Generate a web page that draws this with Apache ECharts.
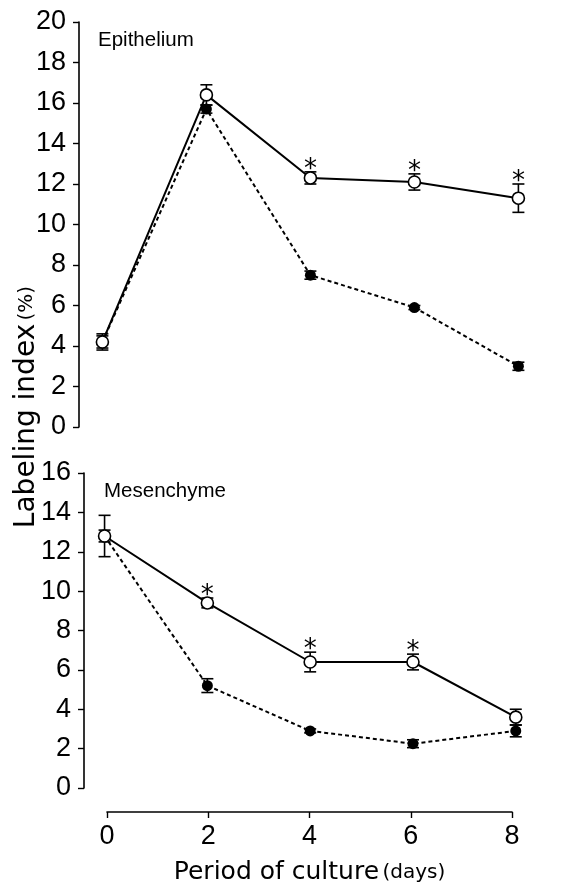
<!DOCTYPE html>
<html>
<head>
<meta charset="utf-8">
<script src="https://cdn.jsdelivr.net/npm/echarts@6/dist/echarts.min.js"></script>
<style>
html,body{margin:0;padding:0;background:#fff;}
#chart{width:573px;height:886px;}
</style>
</head>
<body>
<div id="chart"></div>
<script>
// ---- data ----
const days = [0, 2, 4, 6, 8];
const xTicks = [0, 2, 4, 6, 8];
const epiOpen = [4.2, 16.4, 12.3, 12.1, 11.3];
const epiOpenErr = [0.4, 0.5, 0.3, 0.4, 0.7];
const epiFilled = [4.2, 15.7, 7.5, 5.9, 3.0];
const epiFilledErr = [0.3, 0.2, 0.2, 0.1, 0.2];
const epiSig = [false, false, true, true, true];
const mesOpen = [12.8, 9.4, 6.4, 6.4, 3.6];
const mesOpenErr = [1.05, 0.25, 0.5, 0.4, 0.4];
const mesFilled = [12.8, 5.2, 2.9, 2.25, 2.9];
const mesFilledErr = [0.3, 0.35, 0.1, 0.2, 0.3];
const mesSig = [false, true, true, true, false];
const noSig = [false, false, false, false, false];
const epiYMax = 20, mesYMax = 16, yStep = 2;
const panelTitles = ['Epithelium', 'Mesenchyme'];
const yTitle = 'Labeling index', yUnit = '(%)';
const xTitle = 'Period of culture', xUnit = '(days)';

const NUM_FONT = "'Liberation Sans',Arial,sans-serif";
const TXT_FONT = "'Liberation Sans',Arial,sans-serif";
const WIDE_FONT = "'DejaVu Sans',sans-serif";

const pts = (vals) => days.map((d, i) => [d, vals[i]]);
const errData = (vals, errs) => days.map((d, i) => [d, vals[i] - errs[i], vals[i] + errs[i]]);

// error bars (and significance asterisks above the upper cap)
function errSeries(idx, vals, errs, sig, z) {
  return {
    type: 'custom', xAxisIndex: idx, yAxisIndex: idx, z: z,
    data: errData(vals, errs),
    renderItem: function (params, api) {
      const lo = api.coord([api.value(0), api.value(1)]);
      const hi = api.coord([api.value(0), api.value(2)]);
      const w = 6;
      const st = { stroke: '#000', lineWidth: 1.6 };
      const children = [
        { type: 'line', shape: { x1: lo[0], y1: lo[1], x2: hi[0], y2: hi[1] }, style: st },
        { type: 'line', shape: { x1: lo[0] - w, y1: lo[1], x2: lo[0] + w, y2: lo[1] }, style: st },
        { type: 'line', shape: { x1: hi[0] - w, y1: hi[1], x2: hi[0] + w, y2: hi[1] }, style: st }
      ];
      if (sig[params.dataIndex]) {
        children.push({ type: 'text', x: hi[0], y: hi[1] - 2,
          style: { text: '*', font: '26px ' + WIDE_FONT, fill: '#000', align: 'center', verticalAlign: 'middle' } });
      }
      return { type: 'group', children: children };
    }
  };
}
function filledSeries(idx, vals) {
  return {
    type: 'line', xAxisIndex: idx, yAxisIndex: idx, z: 3,
    data: pts(vals), symbol: 'circle', symbolSize: 11,
    itemStyle: { color: '#000' },
    lineStyle: { color: '#000', width: 2, type: [4, 3] },
    animation: false
  };
}
function openSeries(idx, vals) {
  return {
    type: 'line', xAxisIndex: idx, yAxisIndex: idx, z: 4,
    data: pts(vals), symbol: 'circle', symbolSize: 12,
    itemStyle: { color: '#fff', borderColor: '#000', borderWidth: 1.6 },
    lineStyle: { color: '#000', width: 2 },
    animation: false
  };
}
function yAxisCfg(idx, max) {
  return {
    type: 'value', gridIndex: idx, min: 0, max: max, interval: yStep,
    axisLine: { show: true, onZero: false, lineStyle: { color: '#000', width: 1.6 } },
    axisTick: { show: true, length: 6, lineStyle: { color: '#000', width: 1.4 } },
    axisLabel: { margin: 13, fontFamily: NUM_FONT, fontSize: 27, color: '#000' },
    splitLine: { show: false }
  };
}

const chart = echarts.init(document.getElementById('chart'), null, { renderer: 'canvas' });
chart.setOption({
  backgroundColor: '#fff',
  animation: false,
  grid: [
    { left: 79, top: 22, width: 455, height: 405, containLabel: false, outerBoundsMode: 'none' },
    { left: 84, top: 473, width: 447.2, height: 315, containLabel: false, outerBoundsMode: 'none' },
    { left: 107, top: 811, width: 405, height: 1, containLabel: false, outerBoundsMode: 'none' }
  ],
  xAxis: [
    { type: 'value', gridIndex: 0, min: -0.45, max: 8.3, show: false },
    { type: 'value', gridIndex: 1, min: -0.4, max: 8.3, show: false },
    { type: 'value', gridIndex: 2, min: 0, max: 8, interval: 2, position: 'bottom',
      axisLine: { show: true, onZero: false, lineStyle: { color: '#000', width: 1.6 } },
      axisTick: { show: true, inside: false, length: 6, lineStyle: { color: '#000', width: 1.4 } },
      axisLabel: { margin: 11, fontFamily: NUM_FONT, fontSize: 27, color: '#000',
        formatter: v => xTicks.indexOf(v) >= 0 ? String(v) : '' },
      splitLine: { show: false },
      name: '{a|' + xTitle + '} {b|' + xUnit + '}',
      nameLocation: 'middle', nameGap: 48,
      nameTextStyle: { color: '#000', rich: {
        a: { fontFamily: WIDE_FONT, fontSize: 25, color: '#000' },
        b: { fontFamily: WIDE_FONT, fontSize: 20, color: '#000' } } }
    }
  ],
  yAxis: [
    yAxisCfg(0, epiYMax),
    yAxisCfg(1, mesYMax),
    { type: 'value', gridIndex: 2, show: false, min: 0, max: 1 }
  ],
  graphic: [
    { type: 'text', left: 98, top: 30, style: { text: panelTitles[0], font: '20.5px ' + TXT_FONT, fill: '#000' } },
    { type: 'text', left: 104, top: 481, style: { text: panelTitles[1], font: '20.5px ' + TXT_FONT, fill: '#000' } },
    { type: 'text', x: 27, y: 407, rotation: Math.PI / 2,
      style: { text: '{a|' + yTitle + '} {b|' + yUnit + '}', align: 'center', verticalAlign: 'middle',
        rich: { a: { fontFamily: WIDE_FONT, fontSize: 28, fill: '#000' },
                b: { fontFamily: WIDE_FONT, fontSize: 20, fill: '#000' } } } }
  ],
  series: [
    errSeries(0, epiFilled, epiFilledErr, noSig, 1),
    errSeries(0, epiOpen, epiOpenErr, epiSig, 2),
    filledSeries(0, epiFilled),
    openSeries(0, epiOpen),
    errSeries(1, mesFilled, mesFilledErr, noSig, 1),
    errSeries(1, mesOpen, mesOpenErr, mesSig, 2),
    filledSeries(1, mesFilled),
    openSeries(1, mesOpen)
  ]
});
</script>
</body>
</html>
